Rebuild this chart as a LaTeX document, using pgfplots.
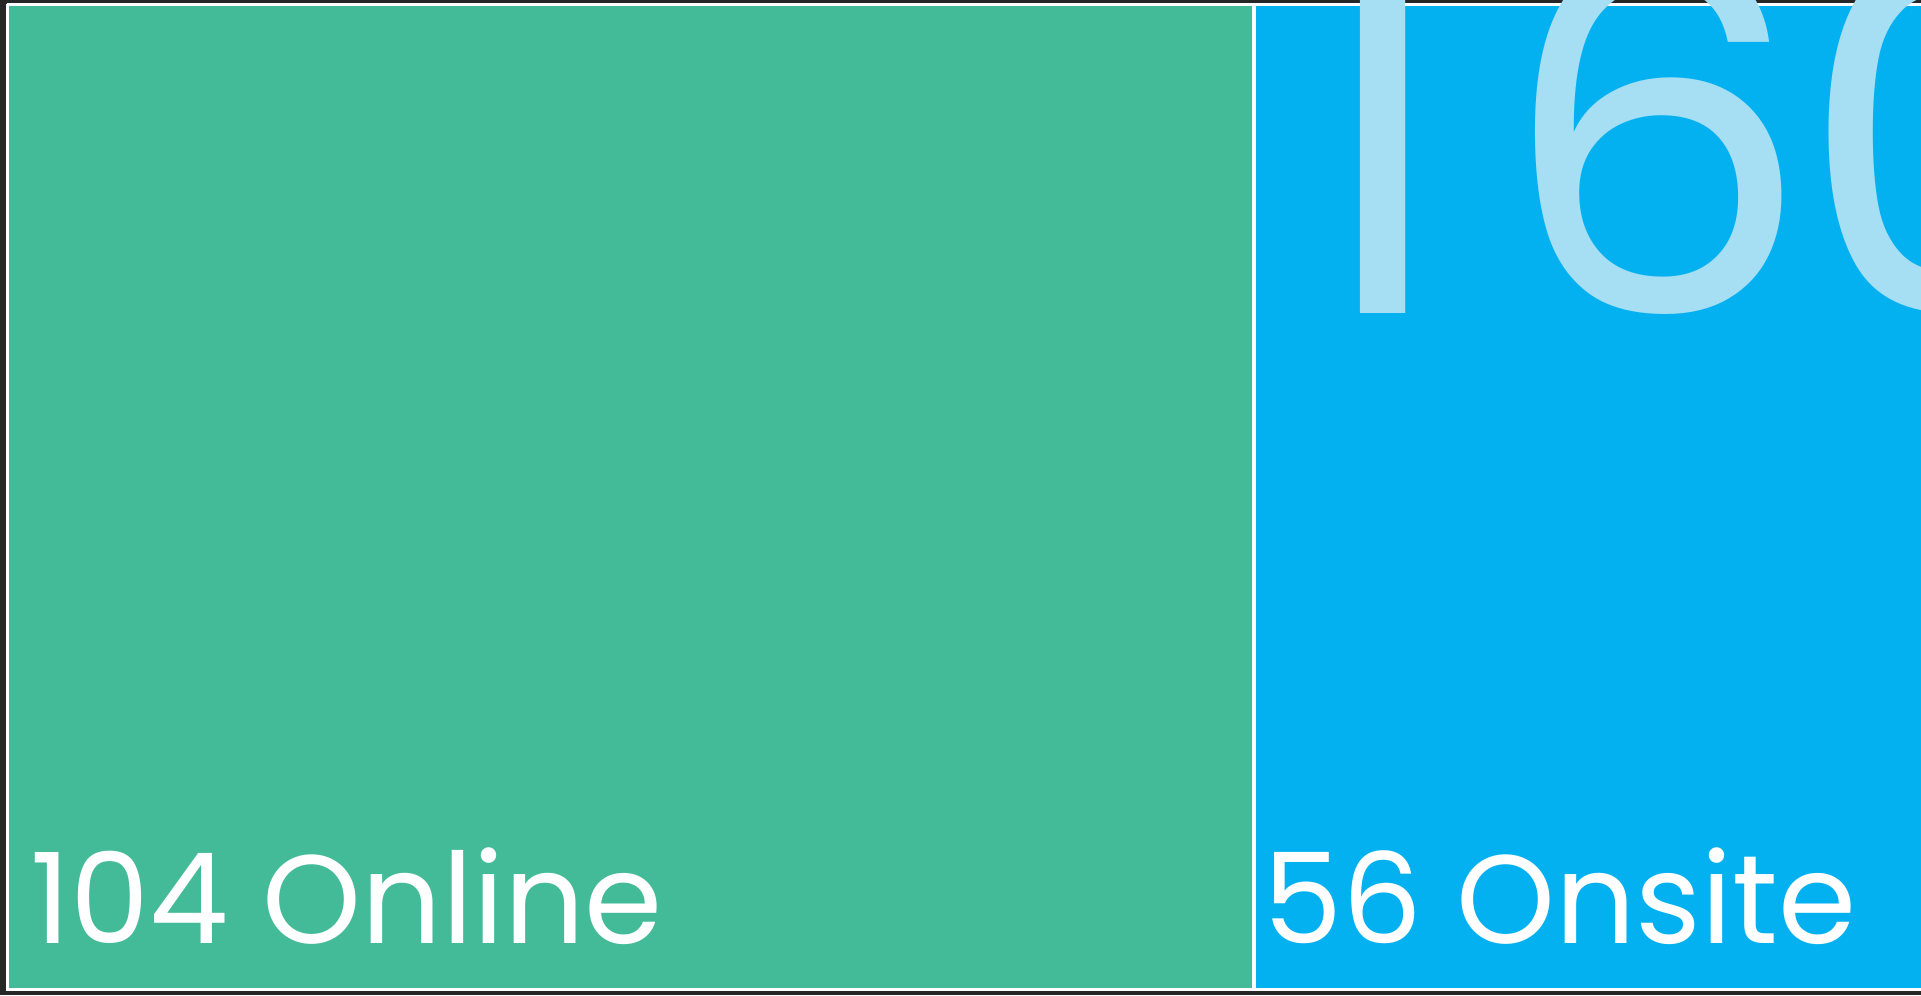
\documentclass[border=0pt]{standalone}
\usepackage{pgfplots}
\pgfplotsset{compat=1.18}
\usepackage{fontspec}
\setmainfont{Poppins}
\definecolor{bgdark}{RGB}{38,38,38}
\definecolor{tgreen}{RGB}{68,187,152}
\definecolor{tblue}{RGB}{3,177,241}
\definecolor{tlight}{RGB}{166,222,244}
\begin{document}
\begin{tikzpicture}
\fill[bgdark] (0,0) rectangle (19.21cm,9.95cm);
\begin{scope}
\clip (0,0) rectangle (19.21cm,9.95cm);
\begin{axis}[
  scale only axis, width=19.21cm, height=9.95cm,
  xmin=0, xmax=1921, ymin=0, ymax=995, y dir=reverse,
  hide axis, clip=false,
]
% treemap: total 160 = 104 Online + 56 Onsite
\addplot[fill=tgreen, draw=white, line width=0.35mm] coordinates {(7.5,4.5) (1254,4.5) (1254,989.5) (7.5,989.5) (7.5,4.5)};
\addplot[fill=tblue, draw=white, line width=0.35mm, overlay] coordinates {(1254,4.5) (1925,4.5) (1925,989.5) (1254,989.5) (1254,4.5)};
\begin{scope}[every node/.style={overlay, anchor=base west, inner sep=0pt, text=tlight, font=\fontsize{140}{140}\selectfont}]
\node at (axis cs:1294,313) {1};
\node at (axis cs:1499,313) {6};
\node at (axis cs:1798,313) {0};
\end{scope}
\node[anchor=base west, inner sep=0pt, text=white, font=\fontsize{35.8}{40}\selectfont] at (axis cs:30,943) {104 Online};
\node[anchor=base west, inner sep=0pt, text=white, font=\fontsize{35.8}{40}\selectfont] at (axis cs:1263,943) {56 Onsite};
\end{axis}
\end{scope}
\end{tikzpicture}
\end{document}
